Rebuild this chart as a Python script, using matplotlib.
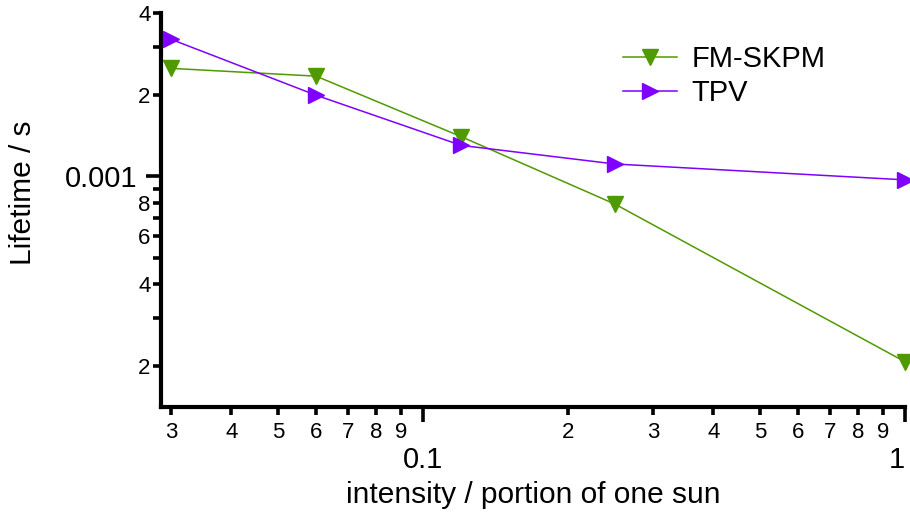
import matplotlib
matplotlib.use('Agg')
import matplotlib.pyplot as plt
import numpy as np

plt.rcParams['font.family'] = ['Liberation Sans', 'DejaVu Sans']

# intensity (portion of one sun)
intensity = [0.03, 0.06, 0.12, 0.25, 1.0]
# lifetimes in s
fm_skpm = [2.50e-3, 2.34e-3, 1.40e-3, 0.79e-3, 0.207e-3]
tpv = [3.20e-3, 1.99e-3, 1.30e-3, 1.11e-3, 0.97e-3]

x_major = [0.1, 1]
x_major_labels = ['0.1', '1']
x_minor = [0.03, 0.04, 0.05, 0.06, 0.07, 0.08, 0.09,
           0.2, 0.3, 0.4, 0.5, 0.6, 0.7, 0.8, 0.9]
x_minor_labels = ['3', '4', '5', '6', '7', '8', '9',
                  '2', '3', '4', '5', '6', '7', '8', '9']
y_major = [1e-3]
y_major_labels = ['0.001']
y_minor = [2e-4, 3e-4, 4e-4, 5e-4, 6e-4, 7e-4, 8e-4, 9e-4, 2e-3, 3e-3, 4e-3]
y_minor_labels = ['2', '', '4', '', '6', '', '8', '', '2', '', '4']


def k():
	W, H = 910, 514
	fig = plt.figure(figsize=(W/100, H/100), dpi=100)
	# axes box in pixels: left 161, right 905, top 13, bottom 407
	ax = fig.add_axes([161/W, 1-407/H, (905-161)/W, (407-13)/H])
	ax.set_xscale('log')
	ax.set_yscale('log')
	ax.set_xlim(0.0286, 1.0)
	ax.set_ylim(1.41e-4, 4e-3)

	green = '#4f9a00'
	purple = '#7f00ff'
	ax.plot(intensity, fm_skpm, color=green, linewidth=1.1, marker='v',
		markersize=11, label='FM-SKPM', clip_on=False, zorder=3)
	ax.plot(intensity, tpv, color=purple, linewidth=1.1, marker='>',
		markersize=11, label='TPV', clip_on=False, zorder=3)

	for s in ['top', 'right']:
		ax.spines[s].set_visible(False)
	for s in ['left', 'bottom']:
		ax.spines[s].set_linewidth(3)

	ax.set_xticks(x_major)
	ax.set_xticklabels(x_major_labels)
	ax.set_xticks(x_minor, minor=True)
	ax.set_xticklabels(x_minor_labels, minor=True)
	ax.set_yticks(y_major)
	ax.set_yticklabels(y_major_labels)
	ax.set_yticks(y_minor, minor=True)
	ax.set_yticklabels(y_minor_labels, minor=True)

	ax.tick_params(which='major', length=11, width=2.6, labelsize=21)
	ax.tick_params(which='minor', length=5.5, width=2.6, labelsize=16)
	ax.tick_params(axis='x', which='major', pad=17)
	ax.tick_params(axis='x', which='minor', pad=5)
	ax.tick_params(axis='y', which='major', pad=6)
	ax.tick_params(axis='y', which='minor', pad=2)
	# the "1" sits against the right edge
	ax.get_xticklabels()[-1].set_horizontalalignment('right')

	fig.text(533/W, 1-495/H, 'intensity / portion of one sun', fontsize=21.5,
		ha='center', va='center')
	fig.text(23/W, 1-193/H, 'Lifetime / s', fontsize=21.5, rotation=90,
		ha='center', va='center')

	ax.legend(loc='upper left', bbox_to_anchor=(623/W, 1-45/H),
		bbox_transform=fig.transFigure, frameon=False, fontsize=21,
		borderpad=0, borderaxespad=0, handlelength=1.85, handletextpad=0.5,
		labelspacing=0.22)

	fig.savefig('out.png', dpi=100)


if __name__ == "__main__":
	k()
